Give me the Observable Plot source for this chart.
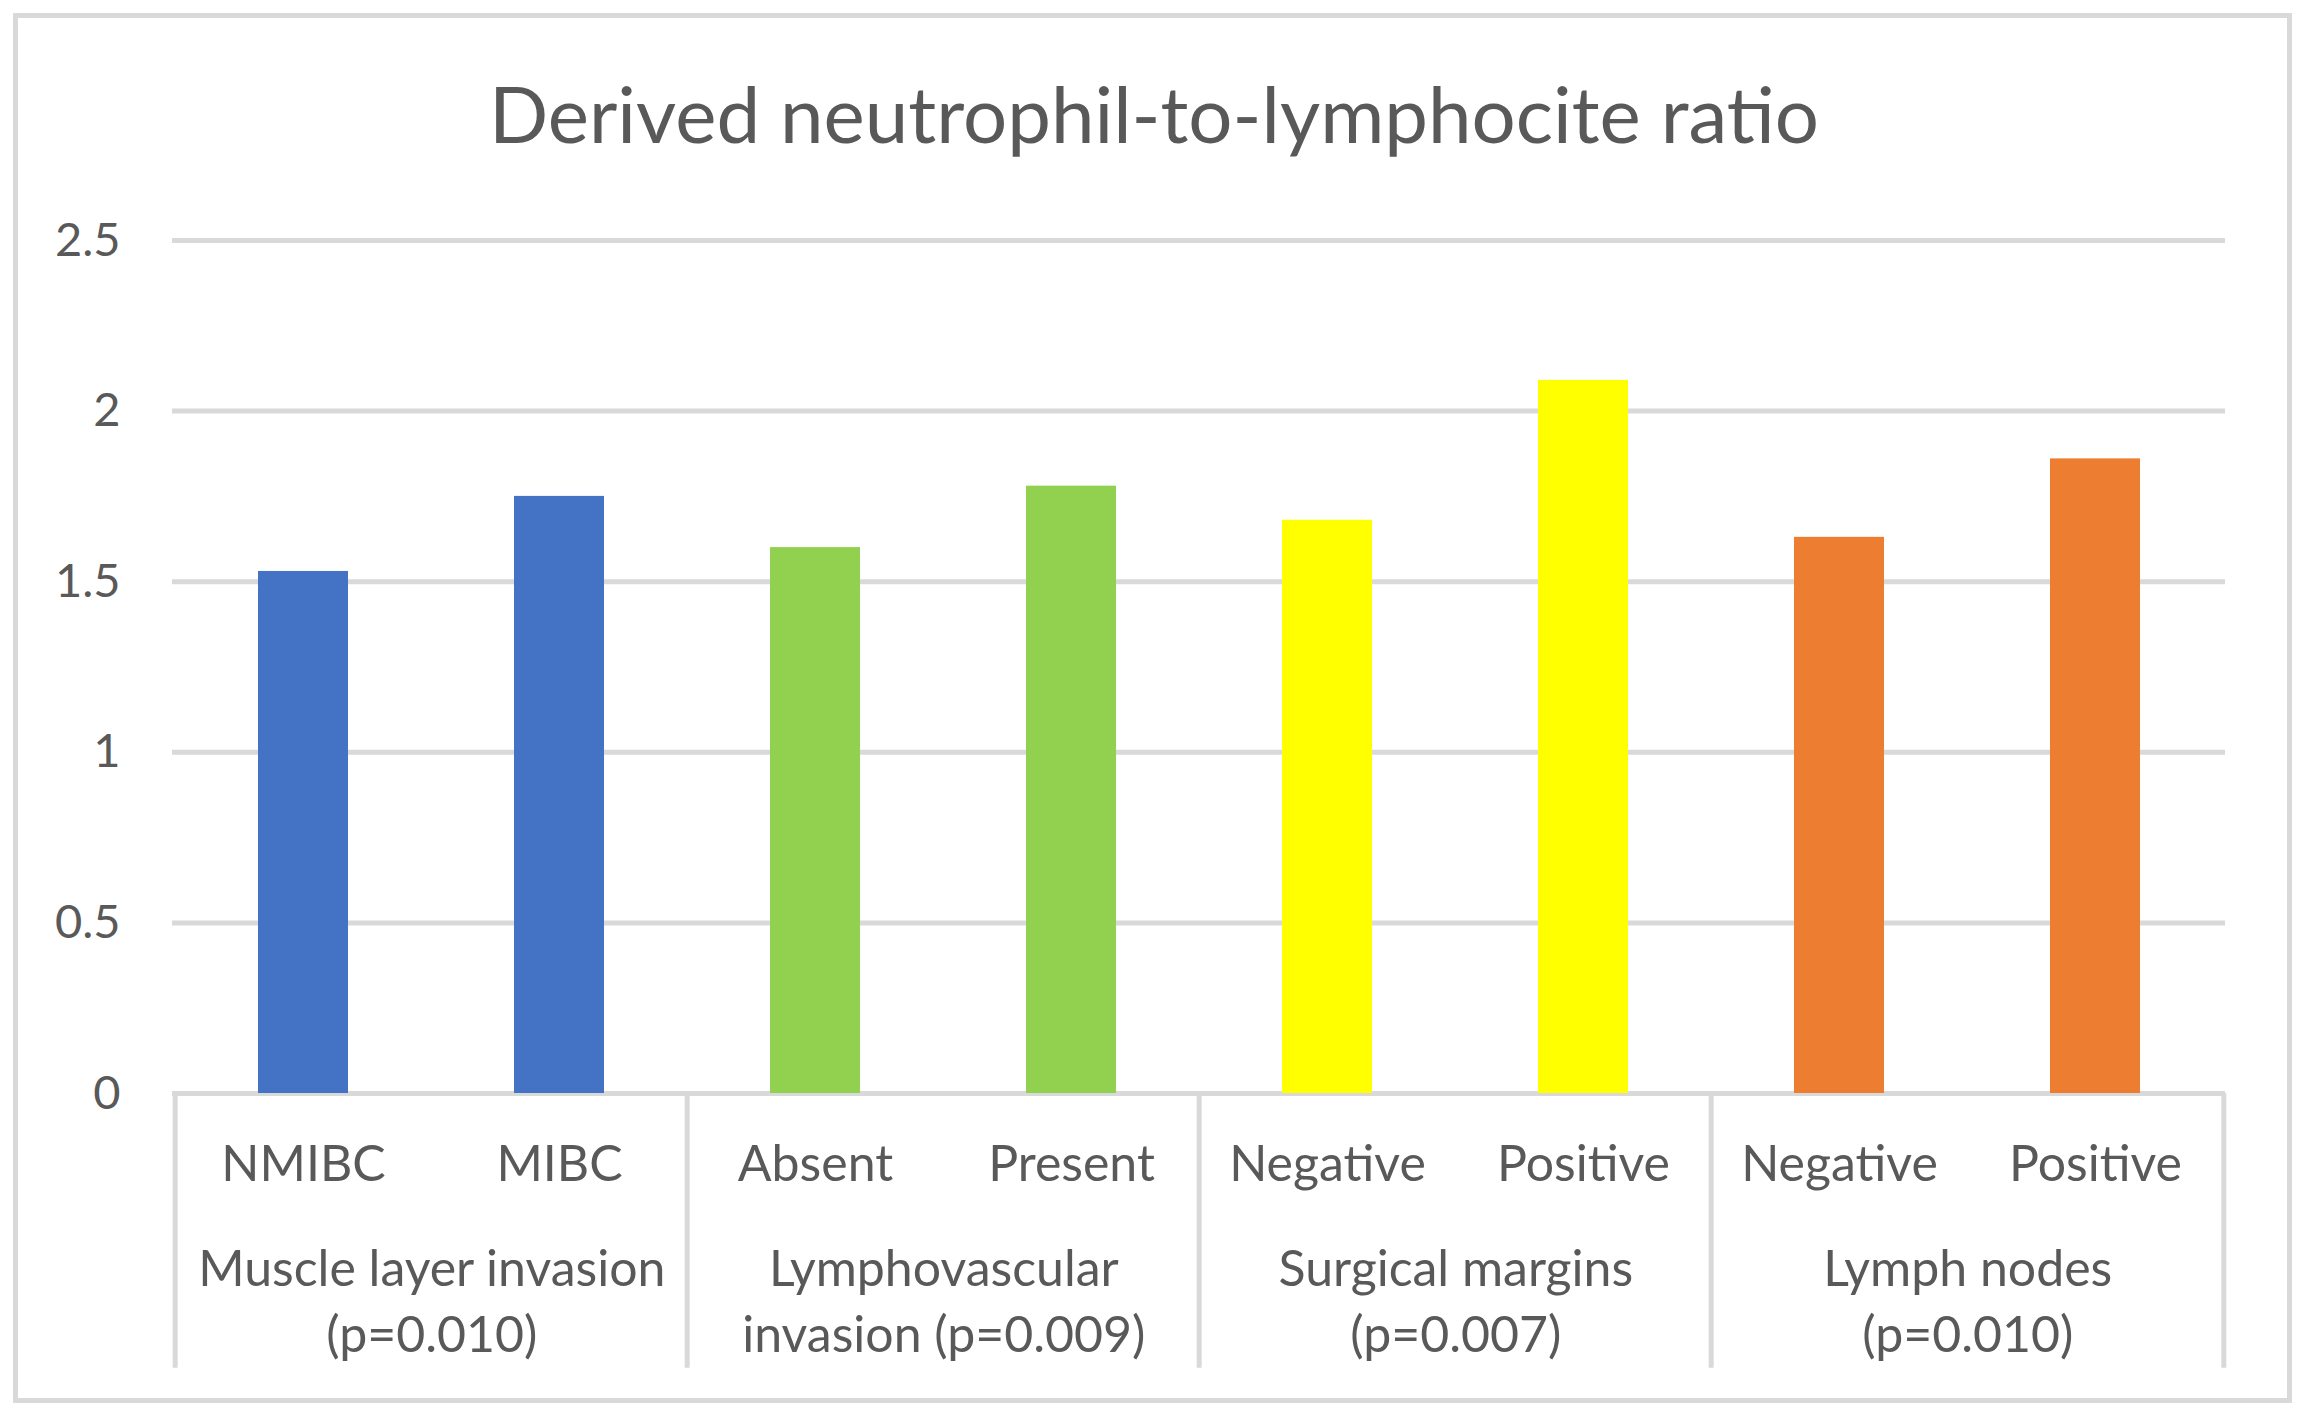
<!DOCTYPE html>
<html>
<head>
<meta charset="utf-8">
<script src="https://cdn.jsdelivr.net/npm/d3@7"></script>
<script src="https://cdn.jsdelivr.net/npm/@observablehq/plot@0.6"></script>
<style>
  html, body { margin: 0; padding: 0; background: #fff; }
  #wrap { position: relative; width: 2307px; height: 1420px; }
  #border { position: absolute; left: 13px; top: 13px; width: 2269px; height: 1380px;
            border: 5px solid #d9d9d9; pointer-events: none; }
</style>
</head>
<body>
<div id="wrap"><div id="border"></div></div>
<script>
const title = "Derived neutrophil-to-lymphocite ratio";
const categories = ["NMIBC", "MIBC", "Absent", "Present", "Negative", "Positive", "Negative", "Positive"];
const groupOf = [0, 0, 1, 1, 2, 2, 3, 3];
const groups = ["Muscle layer invasion\n(p=0.010)", "Lymphovascular\ninvasion (p=0.009)", "Surgical margins\n(p=0.007)", "Lymph nodes\n(p=0.010)"];
const values = [1.53, 1.75, 1.60, 1.78, 1.68, 2.09, 1.63, 1.86];
const groupColors = ["#4472C4", "#92D050", "#FFFF00", "#ED7D31"];
const yTicks = [0, 0.5, 1, 1.5, 2, 2.5];

const W = 2307, H = 1420, ML = 172, MR = 82, MT = 240, MB = 327;
const keys = categories.map((c, i) => String(i));
const data = categories.map((c, i) => ({key: keys[i], label: c, value: values[i], color: groupColors[groupOf[i]]}));
const groupFirst = groups.map((g, gi) => keys[groupOf.indexOf(gi)]);
const step = (W - ML - MR) / keys.length;

const chart = Plot.plot({
  width: W, height: H,
  marginLeft: ML, marginRight: MR, marginTop: MT, marginBottom: MB,
  style: {fontFamily: "Lato, 'Open Sans', sans-serif", color: "#595959", background: "transparent"},
  x: {domain: keys, paddingInner: 0.65, paddingOuter: 0.325, axis: null},
  y: {domain: [0, 2.5], axis: null},
  color: {type: "identity"},
  marks: [
    Plot.ruleY(yTicks, {stroke: "#d9d9d9", strokeWidth: 5}),
    Plot.barY(data, {x: "key", y: "value", fill: "color"}),
    Plot.axisY({ticks: yTicks, tickSize: 0, tickPadding: 52, fontSize: 47, label: null, tickFormat: d => String(d)}),
    Plot.axisX({tickSize: 0, tickPadding: 52, fontSize: 50, label: null, tickFormat: k => categories[+k]}),
    Plot.ruleX(groupFirst, {x: d => d, dx: -step / 2, y1: 0, y2: -0.805, stroke: "#d9d9d9", strokeWidth: 5}),
    Plot.ruleX([keys[keys.length - 1]], {x: d => d, dx: step / 2, y1: 0, y2: -0.805, stroke: "#d9d9d9", strokeWidth: 5}),
    Plot.text(groups, {x: (d, i) => groupFirst[i], dx: step / 2, frameAnchor: "bottom", dy: 204,
      text: d => d, lineAnchor: "middle", lineHeight: 1.32, fontSize: 50}),
    Plot.text([title], {frameAnchor: "top", dx: W / 2 - (ML + (W - ML - MR) / 2), dy: -(MT - 118),
      text: d => d, lineAnchor: "middle", fontSize: 78})
  ]
});
chart.style.position = "absolute";
chart.style.left = "0px";
chart.style.top = "0px";
document.getElementById("wrap").appendChild(chart);
</script>
</body>
</html>
